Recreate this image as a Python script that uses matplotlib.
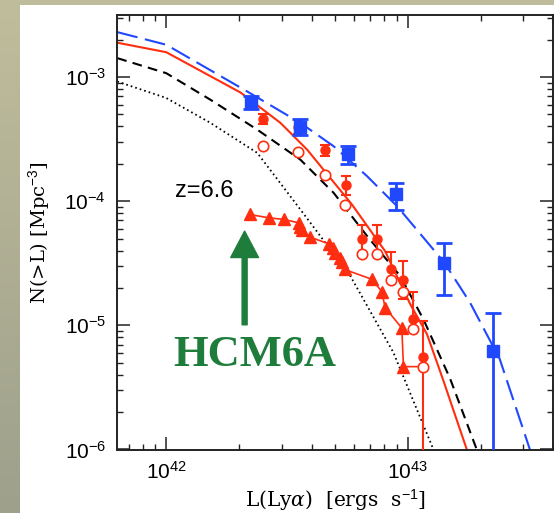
import numpy as np
import matplotlib.pyplot as plt
from matplotlib.patches import Rectangle
from matplotlib.ticker import LogLocator, NullFormatter, FuncFormatter

plt.rcParams['mathtext.fontset'] = 'custom'
plt.rcParams['mathtext.rm'] = 'Liberation Sans'
plt.rcParams['mathtext.it'] = 'DejaVu Serif:italic'
plt.rcParams['lines.scale_dashes'] = False

# model curves (L in erg/s, N in Mpc^-3)
blue_curve_L = np.array([0.627, 1.0, 2.16, 3.59, 4.93, 6.78, 9.02, 14.13, 18.07, 24.0, 32.0]) * 1e42
blue_curve_N = [2.30e-3, 1.82e-3, 7.66e-4, 4.27e-4, 2.77e-4, 1.59e-4, 9.12e-5, 3.22e-5, 1.53e-5, 5.36e-6, 1.0e-6]
red_curve_L = np.array([0.627, 1.0, 2.03, 2.97, 3.83, 5.87, 8.05, 10.23, 12.0, 13.96, 17.54]) * 1e42
red_curve_N = [1.89e-3, 1.585e-3, 7.50e-4, 4.27e-4, 2.60e-4, 9.40e-5, 3.96e-5, 1.48e-5, 8.49e-6, 3.69e-6, 1.0e-6]
black_curve_L = np.array([0.627, 1.0, 1.524, 2.38, 3.59, 4.93, 6.78, 9.29, 11.59, 14.96, 19.28]) * 1e42
black_curve_N = [1.42e-3, 1.074e-3, 6.56e-4, 3.77e-4, 2.16e-4, 1.167e-4, 5.24e-5, 2.50e-5, 1.122e-5, 3.72e-6, 1.0e-6]
dot_curve_L = np.array([0.627, 1.0, 1.524, 2.38, 3.59, 5.78, 8.71, 12.76]) * 1e42
dot_curve_N = [9.20e-4, 6.78e-4, 4.27e-4, 2.45e-4, 8.57e-5, 2.50e-5, 6.05e-6, 1.0e-6]

# blue squares
blue_L = np.array([2.244, 3.565, 5.649, 8.974, 14.16, 22.59]) * 1e42
blue_N = np.array([6.27e-4, 3.94e-4, 2.38e-4, 1.135e-4, 3.20e-5, 6.22e-6])
blue_hi = np.array([7.02e-4, 4.55e-4, 2.77e-4, 1.41e-4, 4.58e-5, 1.25e-5])
blue_lo = np.array([5.55e-4, 3.43e-4, 1.98e-4, 8.47e-5, 1.77e-5, 1e-8])

# red filled circles
red_L = np.array([2.507, 3.51, 4.55, 5.53, 6.46, 7.48, 8.55, 9.57, 10.54, 11.56]) * 1e42
red_N = np.array([4.59e-4, 3.98e-4, 2.60e-4, 1.345e-4, 4.99e-5, 4.99e-5, 2.85e-5, 2.34e-5, 1.122e-5, 5.56e-6])
red_hi = np.array([5.04e-4, 4.53e-4, 2.85e-4, 1.59e-4, 6.41e-5, 6.41e-5, 3.89e-5, 3.30e-5, 1.84e-5, 1.086e-5])
red_lo = np.array([4.19e-4, 3.50e-4, 2.33e-4, 1.13e-4, 3.73e-5, 3.73e-5, 2.31e-5, 1.64e-5, 9.31e-6, 1e-8])

# red open circles
open_L = np.array([2.507, 3.51, 4.52, 5.51, 6.46, 7.48, 8.51, 9.53, 10.54, 11.56]) * 1e42
open_N = [2.77e-4, 2.48e-4, 1.64e-4, 9.29e-5, 3.73e-5, 3.73e-5, 2.33e-5, 1.87e-5, 9.31e-6, 4.61e-6]

# red triangles (last entry is where the connecting line ends)
tri_L = np.array([2.213, 2.655, 3.062, 3.532, 3.589, 3.648, 3.945, 4.70, 4.90, 5.01, 5.22,
                  5.35, 5.47, 7.10, 7.80, 8.05, 9.44, 9.59, 11.56]) * 1e42
tri_N = [7.82e-5, 7.35e-5, 7.13e-5, 6.70e-5, 6.18e-5, 5.81e-5, 5.13e-5, 4.54e-5, 4.22e-5, 3.85e-5,
         3.51e-5, 3.26e-5, 2.82e-5, 2.35e-5, 1.87e-5, 1.39e-5, 9.51e-6, 4.65e-6, 4.65e-6]

blue = '#1f48ff'
red = '#ff2e10'
green = '#1f7d3c'

W, H = 554, 513
fig = plt.figure(figsize=(W / 100, H / 100), dpi=100)

# beige frame with a white page on top
bg = fig.add_axes([0, 0, 1, 1], zorder=-10)
bg.axis('off')
t = np.linspace(0, 1, 256)[:, None, None]
c_top = np.array([192, 189, 156]) / 255
c_bot = np.array([158, 160, 140]) / 255
bg.imshow(c_top + (c_bot - c_top) * t, aspect='auto', extent=[0, 1, 0, 1])
fig.add_artist(Rectangle((20 / W, 0), 1 - 20 / W, 1 - 5 / H, transform=fig.transFigure,
                         facecolor='white', edgecolor='none', zorder=-5))

ax = fig.add_axes([117.3 / W, 1 - 449.5 / H, (553.3 - 117.3) / W, (449.5 - 15) / H])
ax.set_facecolor('white')
ax.set_xscale('log')
ax.set_yscale('log')

ax.plot(dot_curve_L, dot_curve_N, color='black', lw=1.3, dashes=(1.2, 2.2), zorder=2)
ax.plot(black_curve_L, black_curve_N, color='black', lw=1.5, dashes=(7, 4.5), zorder=2)
ax.plot(red_curve_L, red_curve_N, color=red, lw=1.5, zorder=2)
ax.plot(blue_curve_L, blue_curve_N, color=blue, lw=1.5, dashes=(15, 5.5), zorder=2)

ax.plot(tri_L, tri_N, color=red, lw=1.2, zorder=3)
ax.plot(tri_L[:-1], tri_N[:-1], '^', color=red, ms=8, mec=red, zorder=4)

ax.errorbar(red_L, red_N, yerr=[red_N - red_lo, red_hi - red_N], fmt='o', ms=6.5,
            color=red, ecolor=red, elinewidth=1.5, capsize=3.6, capthick=1.5, zorder=4)
ax.plot(open_L, open_N, 'o', ms=7.5, mfc='white', mec=red, mew=1.2, zorder=5)
ax.errorbar(blue_L, blue_N, yerr=[blue_N - blue_lo, blue_hi - blue_N], fmt='s', ms=8,
            color=blue, ecolor=blue, elinewidth=2, capsize=5.8, capthick=2, zorder=6)

ax.set_xlim(6.27e41, 4.0e43)
ax.set_ylim(1e-6, 3.16e-3)

ax.text(1.09e42, 1.076e-4, 'z=6.6', fontsize=17, family='Liberation Sans',
        ha='left', va='baseline')
ax.text(2.33e42, 4.73e-6, 'HCM6A', fontsize=32, family='Liberation Serif', weight='bold',
        color=green, ha='center', va='baseline')
ax.annotate('', xy=(2.11e42, 5.74e-5), xytext=(2.11e42, 1.01e-5),
            arrowprops=dict(arrowstyle='simple,head_length=19,head_width=20,tail_width=3.6',
                            mutation_scale=1, color=green, shrinkA=0, shrinkB=0))


def sci(v, pos):
    return r'$\mathrm{10^{%d}}$' % int(round(np.log10(v)))


for axis in (ax.xaxis, ax.yaxis):
    axis.set_major_locator(LogLocator(base=10))
    axis.set_minor_locator(LogLocator(base=10, subs=np.arange(2, 10)))
    axis.set_major_formatter(FuncFormatter(sci))
    axis.set_minor_formatter(NullFormatter())

ax.tick_params(which='both', direction='in', top=True, right=True, color='#222222',
               labelsize=15, pad=8)
ax.tick_params(which='major', length=9.4, width=1.1)
ax.tick_params(which='minor', length=4.5, width=1.0)
for s in ax.spines.values():
    s.set_linewidth(1.4)
    s.set_color('#222222')

ax.set_xlabel(r'L(Ly$\alpha$)  [ergs  s$^{-1}$]', family='DejaVu Serif', fontsize=14.5, labelpad=3)
ax.set_ylabel(r'N(>L) [Mpc$^{-3}$]', family='DejaVu Serif', fontsize=14, labelpad=9)

fig.savefig('out.png', dpi=100)
